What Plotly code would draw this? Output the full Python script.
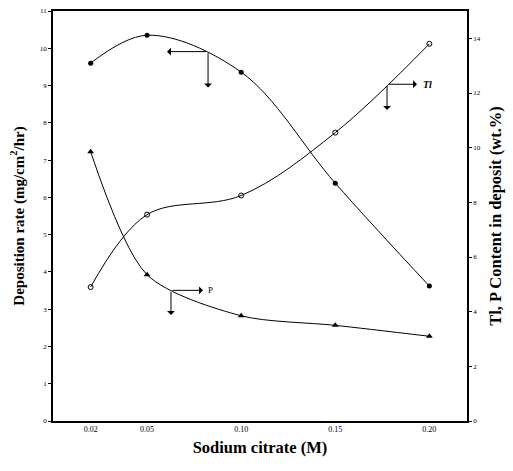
import plotly.graph_objects as go

conc = [0.02, 0.05, 0.10, 0.15, 0.20]
dep_rate = [9.6, 10.35, 9.36, 6.38, 3.62]
tl_content = [4.9, 7.55, 8.25, 10.55, 13.8]
p_content = [9.85, 5.35, 3.85, 3.5, 3.1]
x_ticks = [0.02, 0.05, 0.10, 0.15, 0.20]
x_tick_text = ["0.02", "0.05", "0.10", "0.15", "0.20"]

FONT = "Times New Roman, Liberation Serif, DejaVu Serif, serif"

fig = go.Figure()
fig.add_trace(go.Scatter(x=conc, y=dep_rate, mode="lines+markers",
                         line=dict(color="black", width=1, shape="spline", smoothing=1.0),
                         marker=dict(symbol="circle", size=5, color="black"),
                         yaxis="y", showlegend=False))
fig.add_trace(go.Scatter(x=conc, y=tl_content, mode="lines+markers",
                         line=dict(color="black", width=1, shape="spline", smoothing=1.0),
                         marker=dict(symbol="circle-open", size=5, color="black"),
                         yaxis="y2", showlegend=False))
fig.add_trace(go.Scatter(x=conc, y=p_content, mode="lines+markers",
                         line=dict(color="black", width=1, shape="spline", smoothing=0.8),
                         marker=dict(symbol="triangle-up", size=6, color="black"),
                         yaxis="y2", showlegend=False))

def arrow(x, y, ax, ay, yref):
    return dict(x=x, y=y, ax=ax, ay=ay, xref="x", yref=yref, axref="x", ayref=yref,
                showarrow=True, arrowhead=1, arrowsize=1.3, arrowwidth=1,
                arrowcolor="black", text="")

annotations = [
    arrow(0.0606, 9.91, 0.0824, 9.91, "y"),
    arrow(0.0824, 8.95, 0.0824, 9.91, "y"),
    arrow(0.1934, 12.32, 0.1775, 12.32, "y2"),
    arrow(0.1775, 11.38, 0.1775, 12.32, "y2"),
    arrow(0.0797, 4.78, 0.0627, 4.78, "y2"),
    arrow(0.0627, 3.88, 0.0627, 4.78, "y2"),
    dict(x=0.1955, y=12.32, xref="x", yref="y2", text="<b><i>Tl</i></b>", showarrow=False,
         xanchor="left", font=dict(family=FONT, size=10, color="black")),
    dict(x=0.0815, y=4.78, xref="x", yref="y2", text="P", showarrow=False,
         xanchor="left", font=dict(family=FONT, size=9, color="black")),
]

fig.update_layout(
    width=513, height=471,
    margin=dict(l=53, r=46, t=7, b=50),
    paper_bgcolor="white", plot_bgcolor="white",
    font=dict(family=FONT, color="black"),
    annotations=annotations,
    xaxis=dict(range=[0, 0.22], tickvals=x_ticks, ticktext=x_tick_text,
               showgrid=False, zeroline=False, showline=True, linecolor="black",
               linewidth=1.5, mirror=True, ticks="",
               tickfont=dict(size=8, family=FONT, color="black"),
               title=dict(text="<b>Sodium citrate (M)</b>",
                          font=dict(size=16.5, family=FONT, color="black"), standoff=8)),
    yaxis=dict(range=[0, 11], dtick=1, showgrid=False, zeroline=False, showline=True,
               linecolor="black", linewidth=1.5, ticks="outside", ticklen=3,
               tickcolor="black", tickfont=dict(size=7, family=FONT, color="black"),
               title=dict(text="<b>Deposition rate (mg/cm<sup>2</sup>/hr)</b>",
                          font=dict(size=15, family=FONT, color="black"), standoff=12)),
    yaxis2=dict(range=[0, 15], tickvals=[0, 2, 4, 6, 8, 10, 12, 14], overlaying="y",
                side="right", showgrid=False, zeroline=False, showline=True,
                linecolor="black", linewidth=1.5, ticks="outside", ticklen=3,
                tickcolor="black", tickfont=dict(size=7, family=FONT, color="black"),
                title=dict(text="<b>Tl, P Content in deposit (wt.%)</b>",
                           font=dict(size=16.5, family=FONT, color="black"), standoff=10)),
)

fig.write_html("out.html")
